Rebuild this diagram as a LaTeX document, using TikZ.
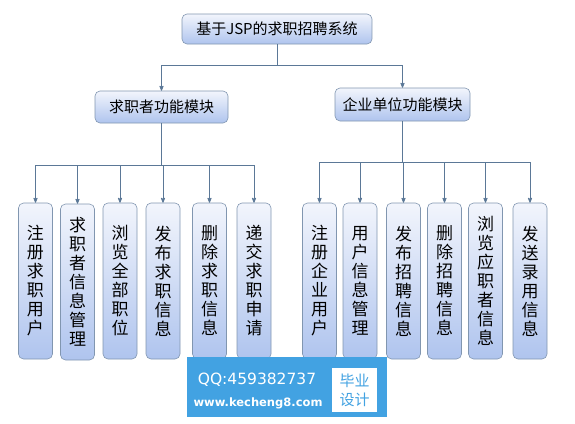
\documentclass[tikz,border=0pt]{standalone}
\usepackage{fontspec}
\setmainfont{Noto Sans CJK SC}
\newfontfamily\wmfont{DejaVu Sans}
\usetikzlibrary{arrows}

\definecolor{lineclr}{HTML}{5B7897}
\definecolor{boxline}{HTML}{8196B0}
\definecolor{boxtop}{HTML}{F2F5FC}
\definecolor{boxbot}{HTML}{AFC4EE}
\definecolor{wmblue}{HTML}{42A2E2}

\begin{document}
\begin{tikzpicture}[x=1pt,y=-1pt,->,>=stealth',
	conn/.style={draw=lineclr,line width=0.8pt},
	box/.style={draw=boxline,line width=0.6pt,rounded corners=5pt,top color=boxtop,bottom color=boxbot,inner sep=0pt},
	head/.style={box,font=\fontsize{15}{18}\selectfont},
	leaf/.style={box,minimum width=34pt,minimum height=156pt,align=center,font=\fontsize{17}{19}\selectfont}]
	\useasboundingbox (0,0) rectangle (575,423);
	\node[head,minimum width=190pt,minimum height=30pt] (sys) at (277,29) {基于JSP的求职招聘系统};
	\node[head,minimum width=133pt,minimum height=32pt] (qz) at (161.5,107) {求职者功能模块};
	\node[head,minimum width=135pt,minimum height=33pt] (qy) at (402.5,104.5) {企业单位功能模块};
	
	\node[leaf] (q1) at (35.5,281) {注\\册\\求\\职\\用\\户};
	\node[leaf] (q2) at (77.5,282) {求\\职\\者\\信\\息\\管\\理};
	\node[leaf] (q3) at (120,281) {浏\\览\\全\\部\\职\\位};
	\node[leaf] (q4) at (163,281) {发\\布\\求\\职\\信\\息};
	\node[leaf] (q5) at (209.5,281) {删\\除\\求\\职\\信\\息};
	\node[leaf] (q6) at (254,281) {递\\交\\求\\职\\申\\请};
	
	\node[leaf] (y1) at (319.5,281) {注\\册\\企\\业\\用\\户};
	\node[leaf] (y2) at (360,281) {用\\户\\信\\息\\管\\理};
	\node[leaf] (y3) at (403.5,281) {发\\布\\招\\聘\\信\\息};
	\node[leaf] (y4) at (444.5,281) {删\\除\\招\\聘\\信\\息};
	\node[leaf] (y5) at (485.5,281) {浏\\览\\应\\职\\者\\信\\息};
	\node[leaf] (y6) at (530,281) {发\\送\\录\\用\\信\\息};
	
	\draw[conn] (sys.south) -- ++(0,21) -| (qz.north);
	\draw[conn] (sys.south) -- ++(0,21) -| (qy.north);
	\foreach \n in {q1,q2,q3,q4,q5,q6}
		\draw[conn] (qz.south) -- ++(0,42) -| (\n.north);
	\foreach \n in {y1,y2,y3,y4,y5,y6}
		\draw[conn] (qy.south) -- ++(0,41) -| (\n.north);
	
	% watermark
	\node[fill=wmblue,minimum width=200pt,minimum height=60pt,inner sep=0pt] (wm) at (287,387) {};
	\node[text=white,font=\wmfont\fontsize{15.5}{18}\selectfont] (qq) at (257,380) {QQ:459382737};
	\node[text=white,font=\wmfont\bfseries\fontsize{11.5}{14}\selectfont] (url) at (258,403) {www.kecheng8.com};
	\node[fill=white,minimum width=45pt,minimum height=44pt,inner sep=0pt,align=center,text=wmblue,font=\fontsize{15}{19}\selectfont] (by) at (354.5,390) {毕业\\设计};
\end{tikzpicture}
\end{document}
